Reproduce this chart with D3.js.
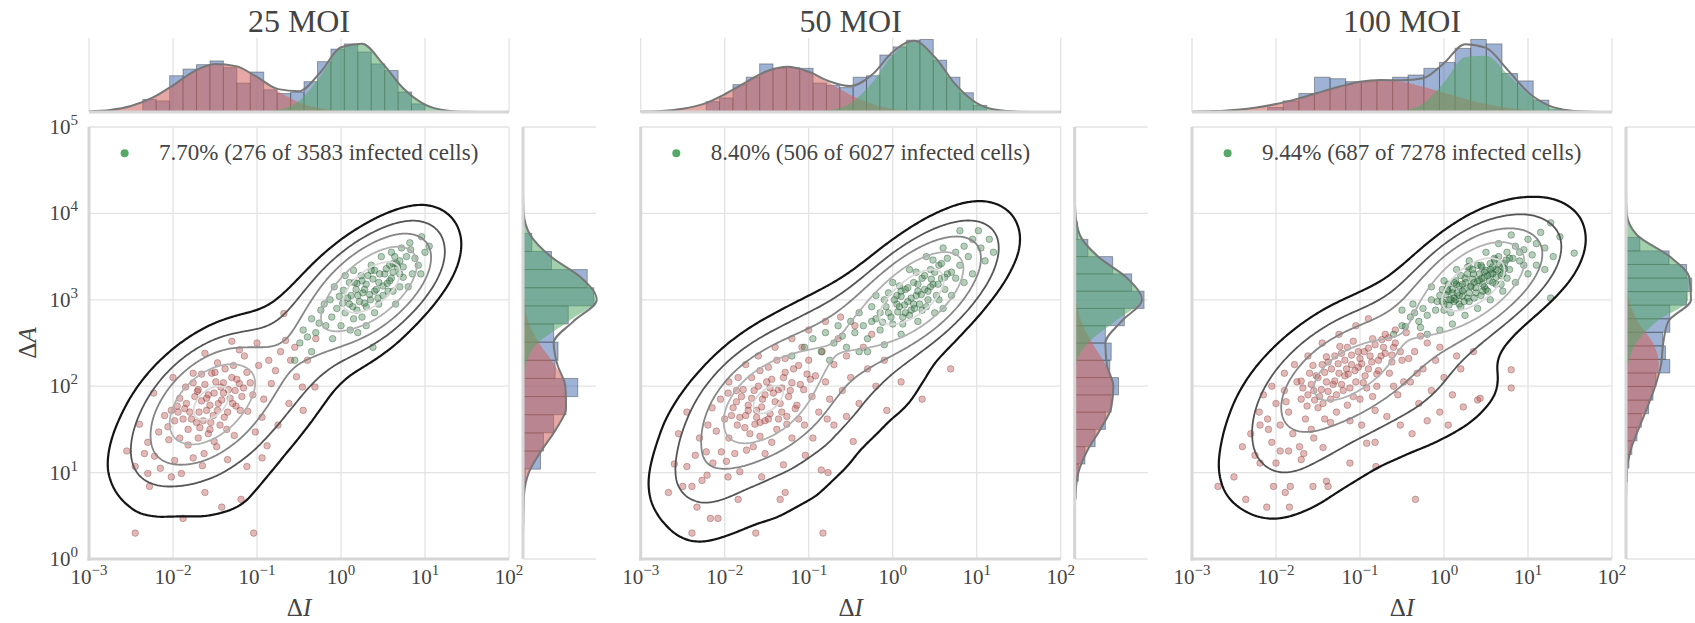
<!DOCTYPE html>
<html>
<head>
<meta charset="utf-8">
<title>Infected cells by MOI</title>
<script src="https://d3js.org/d3.v7.min.js"></script>
<style>
  body { margin: 0; background: #fff; }
  text { font-family: "Liberation Serif", "DejaVu Serif", serif; fill: #444; }
</style>
</head>
<body>
<script>
// ---- data ----
var titles = ["25 MOI", "50 MOI", "100 MOI"];
var legendLabels = ["7.70% (276 of 3583 infected cells)",
                    "8.40% (506 of 6027 infected cells)",
                    "9.44% (687 of 7278 infected cells)"];
var xTickExps = [-3, -2, -1, 0, 1, 2];
var yTickExps = [0, 1, 2, 3, 4, 5];

// log10 grid for the fitted component curves
var topGrid = [-3, -2.75, -2.5, -2.25, -2, -1.75, -1.5, -1.25, -1, -0.75, -0.5, -0.25, 0, 0.25, 0.5, 0.75, 1, 1.25, 1.5, 1.75, 2];
var rightGrid = [0, 0.25, 0.5, 0.75, 1, 1.25, 1.5, 1.75, 2, 2.25, 2.5, 2.75, 3, 3.25, 3.5, 3.75, 4, 4.25, 4.5, 4.75, 5];

var topRed1 = [0.007, 0.026, 0.08, 0.19, 0.36, 0.55, 0.65, 0.62, 0.47, 0.28, 0.13, 0.05, 0.015, 0.003, 0, 0, 0, 0, 0, 0, 0];
var topGreen1 = [0, 0, 0, 0, 0, 0, 0, 0, 0.003, 0.029, 0.15, 0.48, 0.86, 0.92, 0.65, 0.31, 0.10, 0.022, 0.003, 0, 0];
var topRed2 = [0.003, 0.013, 0.043, 0.11, 0.24, 0.40, 0.55, 0.61, 0.54, 0.39, 0.23, 0.11, 0.04, 0.012, 0.003, 0, 0, 0, 0, 0, 0];
var topGreen2 = [0, 0, 0, 0, 0, 0, 0, 0, 0.003, 0.023, 0.12, 0.39, 0.77, 0.95, 0.74, 0.37, 0.12, 0.026, 0.004, 0, 0];
var topRed3 = [0.005, 0.012, 0.028, 0.058, 0.107, 0.177, 0.26, 0.34, 0.41, 0.43, 0.41, 0.34, 0.26, 0.177, 0.107, 0.058, 0.028, 0.012, 0.005, 0.002, 0];
var topGreen3 = [0, 0, 0, 0, 0, 0, 0, 0, 0, 0.002, 0.018, 0.115, 0.40, 0.74, 0.76, 0.52, 0.24, 0.075, 0.016, 0.002, 0];

var rightRed1 = [0, 0, 0.005, 0.015, 0.08, 0.25, 0.45, 0.59, 0.58, 0.43, 0.22, 0.07, 0.02, 0.005, 0, 0, 0, 0, 0, 0, 0];
var rightGreen1 = [0, 0, 0, 0, 0, 0, 0, 0, 0, 0.04, 0.2, 0.62, 0.99, 0.8, 0.38, 0.1, 0.01, 0, 0, 0, 0];
var rightRed2 = [0, 0, 0, 0.01, 0.05, 0.17, 0.35, 0.5, 0.53, 0.42, 0.24, 0.09, 0.02, 0, 0, 0, 0, 0, 0, 0, 0];
var rightGreen2 = [0, 0, 0, 0, 0, 0, 0, 0, 0, 0.02, 0.18, 0.55, 0.9, 0.72, 0.32, 0.07, 0.01, 0, 0, 0, 0];
var rightRed3 = [0, 0, 0, 0, 0.01, 0.06, 0.17, 0.29, 0.40, 0.45, 0.37, 0.16, 0.04, 0.01, 0, 0, 0, 0, 0, 0, 0];
var rightGreen3 = [0, 0, 0, 0, 0, 0, 0, 0, 0, 0.03, 0.14, 0.42, 0.85, 0.86, 0.60, 0.15, 0.01, 0, 0, 0, 0];

// histograms of all cells (log10 bin start, bin width, relative heights)
var topBinStart = [-2.36, -2.22, -2.10];
var topBinWidth = [0.16, 0.159, 0.186];
var topBars1 = [0.17, 0.15, 0.49, 0.58, 0.64, 0.69, 0.60, 0.39, 0.54, 0.30, 0.25, 0.27, 0.41, 0.68, 0.85, 0.92, 0.81, 0.65, 0.56, 0.27, 0.11];
var topBars2 = [0.14, 0.19, 0.37, 0.47, 0.65, 0.59, 0.60, 0.59, 0.39, 0.36, 0.33, 0.47, 0.49, 0.77, 0.88, 0.97, 0.98, 0.70, 0.47, 0.26, 0.09];
var topBars3 = [0.06, 0.15, 0.25, 0.47, 0.45, 0.41, 0.41, 0.43, 0.47, 0.50, 0.59, 0.67, 0.86, 0.98, 0.92, 0.52, 0.42, 0.16, 0.03];
var rightBinStart = [0.41, 0.7, 0.74];
var rightBinWidth = [0.21, 0.2, 0.157];
var rightBars1 = [0.01, 0.01, 0.03, 0.24, 0.28, 0.42, 0.59, 0.75, 0.44, 0.48, 0.42, 0.62, 0.97, 0.88, 0.39, 0.12];
var rightBars2 = [0.02, 0.05, 0.14, 0.28, 0.42, 0.5, 0.6, 0.48, 0.5, 0.42, 0.68, 0.95, 0.78, 0.52, 0.18, 0.04];
var rightBars3 = [0.01, 0.02, 0.04, 0.08, 0.15, 0.21, 0.31, 0.37, 0.41, 0.60, 0.54, 0.50, 0.60, 0.60, 0.83, 0.90, 0.83, 0.59, 0.19];

// cells as [log10 dI, log10 dA]
var red1 = [[-2.45,0.30],[-1.04,0.30],[-1.88,0.47],[-1.42,0.60],[-1.19,0.69],[-1.62,0.77],[-2.28,0.84],[-2.30,0.99],[-2.45,1.07],[-2.02,0.95],[-1.90,0.99],[-1.12,1.07],[-0.94,1.17],[-0.88,1.31],[-2.34,1.22],[-2.22,1.19],[-1.98,1.14],[-1.76,1.17],[-1.63,1.22],[-1.51,1.36],[-1.27,1.43],[-1.02,1.47],[-2.17,1.47],[-2.06,1.53],
  [-0.68,2.84],[-1.00,2.50],[-0.66,2.53],[-1.21,2.42],[-1.47,2.27],[-1.76,2.15],[-1.54,2.15],[-1.85,1.99],[-1.71,1.94],[-1.43,1.99],[-1.21,2.03],[-0.83,2.03],[-0.53,2.11],[-0.46,1.99],[-0.31,1.99],[-2.23,1.92],[-2.02,1.72],[-1.95,1.77],[-1.60,1.72],[-1.25,1.77],[-1.11,1.71],[-0.94,1.64],[-0.45,1.72],
  [-1.88,1.62],[-1.80,1.70],[-1.72,1.58],[-1.66,1.83],[-1.58,1.90],[-1.52,1.66],[-1.46,1.80],[-1.40,1.92],[-1.35,1.70],[-1.30,2.10],[-1.92,1.86],[-1.84,1.80],[-1.76,2.04],[-1.68,1.52],[-1.62,2.02],[-1.55,1.58],[-1.49,2.05],[-1.44,1.55],[-1.38,2.20],[-1.32,1.86],[-1.26,1.95],[-1.18,1.88],[-1.12,2.16],[-1.05,1.90],[-0.98,2.24],[-0.92,1.85],[-0.86,2.30],[-0.78,2.18],[-0.72,2.40],[-0.60,2.30],[-1.98,1.60],[-2.10,1.66],[-2.05,1.38],[-1.92,1.40],[-1.82,1.32],[-1.70,1.40],[-1.58,1.45],[-1.48,1.30],[-1.36,1.50],[-2.40,1.56],[-2.30,1.35],[-2.55,1.25],[-2.15,1.05],[-1.65,1.08],[-1.35,1.15],[-0.75,1.55],[-0.62,1.80],[-0.55,2.45],[-0.40,2.30],[-0.30,2.55],[-1.15,2.35],[-1.30,2.52],[-1.62,2.38],[-2.00,2.10],
  [-1.86,1.74],[-1.78,1.62],[-1.74,1.88],[-1.69,1.70],[-1.64,1.60],[-1.60,1.86],[-1.56,1.78],[-1.51,1.92],[-1.47,1.72],[-1.42,1.84],[-1.39,1.64],[-1.34,1.96],[-1.29,1.80],[-1.24,2.08],[-1.20,1.72],[-1.16,1.98],[-1.70,1.96],[-1.82,1.50],[-1.94,1.70],[-1.50,2.16],[-1.28,2.24],[-1.08,2.04],[-1.56,1.50],[-1.66,2.14],[-1.40,2.04]];
var green1 = [[0.96,3.73],[0.83,3.58],[0.62,3.42],[0.40,3.34],[0.19,3.19],[-0.02,3.04],[-0.24,2.88],[-0.40,2.57],[-0.49,2.50],[-0.26,2.73],[-0.11,2.80],[0.19,2.88],[0.40,2.85],[0.38,2.45],[0.11,2.65],[0.67,3.38],[0.74,3.26],[0.55,3.19],[0.15,3.34],[0.03,3.11],[-0.13,3.00],
  [0.10,2.95],[0.20,3.05],[0.28,3.12],[0.35,3.00],[0.45,3.20],[0.52,3.30],[0.60,3.25],[0.70,3.45],[0.78,3.50],[0.88,3.48],[0.92,3.40],[0.85,3.30],[0.30,2.92],[0.25,3.22],[0.05,2.85],[-0.05,2.90],[-0.18,2.70],[-0.30,2.62],[-0.35,2.78],[0.00,2.70],[0.15,2.78],[0.25,2.80],[0.45,2.95],[0.50,3.05],[0.58,3.40],[0.62,3.10],[0.40,3.10],[0.32,3.28],[0.10,3.20],[-0.08,3.15],[0.72,3.60],[0.82,3.66],[1.00,3.55],[1.05,3.62],[0.95,3.30],[0.70,3.15],[0.20,2.62],[-0.45,2.65],[-0.55,2.30],[-0.35,2.40],[0.05,3.28],[0.48,3.50],[0.60,3.55],[0.12,3.05],[0.36,3.40],[-0.20,2.95],[0.80,3.15],[0.30,2.70],[-0.10,2.55],[0.65,2.95],
  [0.08,3.02],[0.14,2.92],[0.18,3.12],[0.22,2.98],[0.26,3.08],[0.30,3.18],[0.34,3.06],[0.38,3.24],[0.42,3.12],[0.46,3.30],[0.50,3.16],[0.54,3.36],[0.58,3.22],[0.62,3.32],[0.66,3.42],[0.70,3.30],[0.16,3.20],[0.28,2.96],[0.44,3.02],[0.56,3.10],[0.64,3.50],[0.02,2.96],[0.36,3.34],[0.24,3.28],[0.74,3.38]];
var red2 = [[-2.39,0.30],[-1.63,0.30],[-0.83,0.30],[-2.17,0.47],[-2.08,0.47],[-1.34,0.69],[-1.28,0.77],[-1.84,0.69],[-2.33,0.60],[-2.50,0.84],[-2.39,0.84],[-2.67,0.77],[-2.45,1.07],[-2.27,0.91],[-2.21,0.97],[-2.14,1.11],[-1.98,1.13],[-1.96,0.95],[-1.82,1.01],[-1.56,0.95],[-0.85,1.03],[-0.77,1.00],[-0.47,1.36],[-0.07,1.72],[-1.04,1.20],[-1.30,1.09],[-1.52,1.22],[-2.22,1.24],[-2.04,1.24],[-1.74,1.26],
  [-2.30,1.40],[-2.20,1.55],[-2.10,1.48],[-2.00,1.62],[-1.95,1.40],[-1.90,1.75],[-1.85,1.55],[-1.80,1.88],[-1.75,1.66],[-1.70,1.45],[-1.65,1.95],[-1.62,1.72],[-1.58,1.58],[-1.55,1.85],[-1.50,2.05],[-1.46,1.68],[-1.42,1.92],[-1.38,1.50],[-1.34,1.80],[-1.30,2.10],[-1.26,1.65],[-1.22,1.95],[-1.18,2.20],[-1.14,1.78],[-1.10,2.02],[-1.05,1.55],[-1.00,2.30],[-0.96,1.88],[-0.92,2.12],[-0.88,1.70],[-0.84,2.40],[-0.80,2.05],[-0.75,1.85],[-0.70,2.25],[-0.65,2.55],[-0.60,1.95],[-0.55,2.35],[-0.50,2.10],[-0.45,2.70],[-0.40,1.80],[-0.35,2.45],[-0.30,2.20],[-0.25,2.60],[-0.20,2.00],[-1.95,2.05],[-1.75,2.25],[-1.60,2.35],[-1.40,2.45],[-1.20,2.55],[-1.00,2.65],[-0.80,2.75],[-2.45,1.70],[-2.55,1.45],[-2.35,1.20],[-2.60,1.10],[-1.88,1.22],[-1.66,1.30],[-1.44,1.35],[-1.20,1.40],[-0.95,1.40],[-0.70,1.55],[-0.55,1.65],[-1.72,1.78],[-1.52,1.60],[-1.32,1.98],[-1.12,1.62],[-1.48,2.22],[-1.68,2.10],[-1.86,1.95],[-2.05,1.85],[-1.28,2.32],[-0.98,2.08],[-0.78,1.62],[-2.15,1.75],[-1.58,1.42],[-1.36,1.62],[-1.08,2.45],[-0.62,2.80],[0.35,1.85],[0.69,2.20],[-0.10,2.30],[0.10,2.05],
  [-1.92,1.66],[-1.86,1.82],[-1.82,1.64],[-1.78,1.96],[-1.72,1.72],[-1.68,1.86],[-1.64,1.56],[-1.60,2.00],[-1.56,1.76],[-1.52,1.90],[-1.48,1.62],[-1.44,2.08],[-1.40,1.82],[-1.36,1.96],[-1.32,1.70],[-1.28,2.16],[-1.24,1.88],[-1.20,2.04],[-1.16,1.74],[-1.12,2.24],[-1.06,1.96],[-1.02,2.14],[-1.96,1.92],[-1.76,1.52],[-1.58,2.18],[-1.38,2.30],[-1.62,1.64],[-1.46,1.98],[-1.26,1.56],[-1.84,2.10]];
var green2 = [[-1.20,2.35],[-1.05,2.45],[-0.95,2.55],[-0.85,2.40],[-0.80,2.62],[-0.70,2.50],[-0.65,2.70],[-0.60,2.58],[-0.55,2.45],[-0.50,2.75],[-0.45,2.62],[-0.40,2.85],[-0.35,2.70],[-0.30,2.55],[-0.25,2.92],[-0.20,2.78],[-0.15,2.65],[-0.10,3.00],[-0.05,2.85],[0.00,2.72],[0.05,3.05],[0.08,2.92],[0.12,2.80],[0.15,3.12],[0.18,2.98],[0.22,2.88],[0.25,3.20],[0.28,3.05],[0.32,2.95],[0.35,3.25],[0.38,3.12],[0.42,3.00],[0.45,3.35],[0.48,3.18],[0.52,3.05],[0.55,3.40],[0.58,3.25],[0.62,3.12],[0.65,3.48],[0.70,3.32],[0.75,3.55],[0.80,3.40],[0.85,3.62],[0.90,3.50],[0.95,3.70],[1.02,3.80],[1.05,3.60],[1.10,3.45],[0.85,3.20],[0.70,3.05],[0.50,2.85],[0.30,2.75],[0.10,2.60],[-0.10,2.48],[-0.30,2.40],[0.60,2.90],[0.95,3.30],[1.15,3.70],[0.20,3.35],[0.00,3.20],[-0.20,3.05],[0.40,3.50],[0.60,3.60],[-0.40,2.40],[-0.75,2.30],[0.25,2.95],[0.15,2.85],[0.05,2.95],[-0.05,3.08],[0.35,2.88],[0.45,3.15],[0.55,3.00],[0.75,3.25],[0.65,3.30],[-0.15,2.85],[-0.25,2.75],[0.10,3.10],[0.30,3.10],[1.20,3.55],[0.80,3.80],
  [-0.08,2.92],[-0.02,2.80],[0.02,3.00],[0.06,2.86],[0.10,3.04],[0.14,2.94],[0.18,3.14],[0.22,3.02],[0.26,2.90],[0.30,3.18],[0.34,3.06],[0.38,3.28],[0.42,3.10],[0.46,3.24],[0.50,3.32],[0.54,3.18],[0.58,3.42],[0.12,2.72],[0.20,2.82],[0.40,2.92],[0.62,3.26],[-0.12,2.74],[0.08,3.16],[0.28,3.32],[0.48,3.46]];
var red3 = [[-2.69,0.84],[-2.36,0.69],[-2.11,0.60],[-1.84,0.60],[-1.89,0.77],[-2.03,0.84],[-1.83,0.84],[-1.56,0.84],[-1.40,0.90],[-1.38,0.84],[-0.34,0.69],[-2.50,0.95],[-2.19,1.11],[-2.00,1.11],[-1.12,1.11],[-0.81,1.07],[-1.95,1.25],[-1.85,1.25],[-1.67,1.22],[-1.44,1.29],[-0.92,1.34],[-0.82,1.35],[-2.19,1.55],[-2.09,1.50],[0.23,1.76],[0.40,1.84],[0.80,2.19],[0.80,1.98],[0.43,1.86],
  [-2.30,1.45],[-2.20,1.70],[-2.10,1.62],[-2.00,1.80],[-1.95,1.55],[-1.90,1.95],[-1.85,1.70],[-1.80,1.45],[-1.75,2.05],[-1.70,1.85],[-1.65,1.62],[-1.60,2.15],[-1.55,1.95],[-1.50,1.75],[-1.45,2.25],[-1.40,2.05],[-1.35,1.85],[-1.30,2.35],[-1.25,2.15],[-1.20,1.95],[-1.15,2.45],[-1.10,2.25],[-1.05,2.05],[-1.00,1.85],[-0.95,2.40],[-0.90,2.20],[-0.85,2.55],[-0.80,2.00],[-0.75,2.35],[-0.70,2.60],[-0.65,2.15],[-0.60,2.45],[-0.55,1.90],[-0.50,2.30],[-0.45,2.62],[-0.40,2.05],[-0.35,2.40],[-0.30,1.80],[-0.25,2.20],[-0.20,2.50],[-0.15,1.95],[-0.10,2.30],[-0.05,1.70],[0.00,2.10],[0.10,1.90],[0.20,2.20],[-2.40,1.30],[-2.25,1.20],[-2.05,1.35],[-1.72,1.30],[-1.58,1.50],[-1.42,1.62],[-1.28,1.70],[-1.12,1.60],[-0.98,1.55],[-0.82,1.72],[-0.68,1.65],[-0.52,1.55],[-0.38,1.45],[-1.62,2.35],[-1.45,2.50],[-1.25,2.60],[-1.05,2.70],[-0.90,2.78],[-1.78,2.25],[-1.90,2.15],[-2.05,2.00],[-1.68,1.98],[-1.52,2.12],[-1.38,2.28],[-1.22,2.38],[-1.08,1.88],[-0.92,1.98],[-0.78,2.18],[-0.62,2.28],[-0.48,2.05],[-0.32,2.15],[-1.48,1.88],[-1.32,2.02],[-1.18,2.12],[-1.02,2.22],[-0.88,2.35],[-0.72,2.45],[-0.58,2.65],[-1.55,1.40],[-1.70,1.15],[-0.20,1.60],[-0.05,2.45],[0.15,2.35],[-2.15,1.90],[-1.88,1.82],[-1.63,1.77],[-1.35,1.58],[-1.15,1.78],[-0.85,1.88],[-0.60,2.00],[-0.42,2.32],[-0.28,2.58],[0.05,1.55],[0.35,2.40],
  [-1.62,1.90],[-1.58,2.02],[-1.54,1.84],[-1.50,2.10],[-1.46,1.96],[-1.42,2.16],[-1.38,1.94],[-1.34,2.20],[-1.30,2.06],[-1.26,2.26],[-1.22,2.02],[-1.18,2.30],[-1.14,2.14],[-1.10,2.36],[-1.06,2.18],[-1.02,2.40],[-0.98,2.26],[-0.94,2.12],[-0.90,2.44],[-0.86,2.28],[-0.82,2.48],[-0.78,2.30],[-0.74,2.54],[-0.70,2.38],[-0.66,2.56],[-0.62,2.36],[-0.58,2.50],[-1.44,1.80],[-1.28,1.90],[-1.12,1.98],[-0.96,2.04],[-0.80,2.14],[-1.56,2.24],[-1.40,2.34],[-1.24,2.46],[-1.08,2.52],[-1.70,2.06],[-0.52,2.40],[-1.16,2.20],[-1.00,2.32]];
var green3 = [[-0.60,2.60],[-0.50,2.70],[-0.46,2.69],[-0.40,2.80],[-0.37,2.95],[-0.50,2.88],[-0.30,2.75],[-0.25,2.90],[-0.20,2.82],[-0.15,3.00],[-0.10,2.88],[-0.05,3.05],[0.00,2.95],[0.05,3.10],[0.08,2.85],[0.12,3.02],[0.15,3.18],[0.18,2.95],[0.22,3.10],[0.25,3.25],[0.28,3.02],[0.32,3.15],[0.35,3.30],[0.38,3.08],[0.42,3.22],[0.45,3.38],[0.48,3.15],[0.52,3.28],[0.55,3.42],[0.58,3.20],[0.62,3.35],[0.65,3.50],[0.68,3.28],[0.72,3.42],[0.75,3.55],[0.78,3.35],[0.82,3.48],[0.85,3.62],[0.90,3.45],[0.95,3.58],[1.00,3.70],[1.05,3.52],[1.10,3.65],[1.15,3.78],[1.20,3.60],[1.27,3.89],[1.38,3.73],[1.55,3.54],[1.27,3.02],[1.30,3.50],[1.20,3.35],[1.00,3.30],[0.85,3.20],[0.70,3.10],[0.55,3.00],[0.40,2.90],[0.25,2.82],[0.10,2.72],[-0.05,2.65],[-0.20,2.60],[0.30,3.45],[0.15,3.35],[0.00,3.22],[-0.15,3.15],[0.50,3.55],[0.65,3.65],[0.80,3.75],[0.40,3.40],[0.20,3.28],[0.05,3.18],[0.60,3.48],[0.48,3.32],[0.36,3.20],[0.24,3.12],[0.12,2.98],[0.00,2.88],[0.70,3.38],[0.58,3.30],[0.44,3.05],[0.30,2.98],[0.18,3.05],[0.06,3.00],[0.90,3.55],[0.78,3.48],[0.62,3.18],[0.50,3.12],[0.34,3.35],[0.22,3.18],[0.10,3.12],[-0.08,2.98],[-0.28,2.68],[-0.35,2.85],[1.10,3.40],[0.95,3.40],[0.75,3.25],[0.45,3.25],[0.28,3.38],[0.14,3.22],[-0.02,3.12],[0.55,3.35],
  [-0.02,2.98],[0.02,3.06],[0.06,2.94],[0.10,3.08],[0.14,3.00],[0.18,3.16],[0.22,3.04],[0.26,3.20],[0.30,3.08],[0.34,3.24],[0.38,3.14],[0.42,3.30],[0.46,3.18],[0.50,3.34],[0.54,3.22],[0.58,3.38],[0.62,3.26],[0.66,3.42],[0.70,3.30],[0.74,3.46],[0.04,3.12],[0.12,3.20],[0.20,2.92],[0.28,3.30],[0.36,3.02],[0.44,3.40],[0.52,3.10],[0.60,3.46],[0.68,3.18],[0.16,3.08],[0.32,3.16],[0.48,3.26],[0.64,3.34],[0.24,2.98],[0.40,3.22],[0.56,3.30],[0.08,3.00],[0.72,3.36],[0.46,3.10],[0.30,3.38]];

var panels = [
  {title: titles[0], legend: legendLabels[0], red: red1, green: green1, topRed: topRed1, topGreen: topGreen1, rightRed: rightRed1, rightGreen: rightGreen1, topBars: topBars1, rightBars: rightBars1},
  {title: titles[1], legend: legendLabels[1], red: red2, green: green2, topRed: topRed2, topGreen: topGreen2, rightRed: rightRed2, rightGreen: rightGreen2, topBars: topBars2, rightBars: rightBars2},
  {title: titles[2], legend: legendLabels[2], red: red3, green: green3, topRed: topRed3, topGreen: topGreen3, rightRed: rightRed3, rightGreen: rightGreen3, topBars: topBars3, rightBars: rightBars3}
];

// ---- layout ----
var W = 1695, H = 623;
var mainLeft = [89, 640.7, 1192];
var mainTop = 127, mainW = 420, mainH = 432;
var topY = 38, topH = 74;
var rightGap = 14, rightW = 73;

var gridColor = "#e3e3e3", spineColor = "#d6d6d6";
var redFill = "#d0605a", greenFill = "#55a868", blueBar = "#4c72b0";
var contourColors = ["#141414", "#555555", "#858585", "#b0b0b0", "#dadada"];
var contourLevels = [0.065, 0.18, 0.34, 0.55, 0.8];
var kdeBandwidth = [29, 30, 33];   // px along the diagonal
var kdeSquash = 1.45;              // kernel is this much narrower across the diagonal

var svg = d3.select("body").append("svg").attr("width", W).attr("height", H);

var x = d3.scaleLog().domain([1e-3, 1e2]).range([0, mainW]);
var y = d3.scaleLog().domain([1, 1e5]).range([mainH, 0]);
var hTop = d3.scaleLinear().domain([0, 1]).range([topH, 0]);
var hRight = d3.scaleLinear().domain([0, 1]).range([0, rightW]);
function p10(v) { return Math.pow(10, v); }
function supText(e) { return e < 0 ? "\u2212" + (-e) : String(e); }

// rotated frame for an elongated (diagonal) kernel
var SQ = Math.SQRT2, pad = 80;
var ou = mainH / SQ + pad, ov = pad;
var gridW = (mainW + mainH) / SQ + 2 * pad;
var gridH = (mainW + mainH) / SQ * kdeSquash + 2 * pad;
var fromRotated = d3.geoTransform({
  point: function (u, v) {
    var uu = u - ou, vv = (v - ov) / kdeSquash;
    this.stream.point((uu + vv) / SQ, (vv - uu) / SQ);
  }
});

svg.append("defs").append("clipPath").attr("id", "plotClip")
  .append("rect").attr("width", mainW).attr("height", mainH);

panels.forEach(function (P, pi) {
  var left = mainLeft[pi];

  // ---------- main joint panel ----------
  var g = svg.append("g").attr("transform", "translate(" + left + "," + mainTop + ")");

  g.selectAll(".vg").data(xTickExps).enter().append("line")
    .attr("x1", function (e) { return x(p10(e)); }).attr("x2", function (e) { return x(p10(e)); })
    .attr("y1", 0).attr("y2", mainH)
    .attr("stroke", gridColor).attr("stroke-width", 1.3);
  g.selectAll(".hg").data(yTickExps).enter().append("line")
    .attr("x1", 0).attr("x2", mainW)
    .attr("y1", function (e) { return y(p10(e)); }).attr("y2", function (e) { return y(p10(e)); })
    .attr("stroke", gridColor).attr("stroke-width", 1.3);
  g.append("line").attr("x1", 0).attr("x2", 0).attr("y1", 0).attr("y2", mainH + 1.5)
    .attr("stroke", spineColor).attr("stroke-width", 3);
  g.append("line").attr("x1", -1.5).attr("x2", mainW).attr("y1", mainH).attr("y2", mainH)
    .attr("stroke", spineColor).attr("stroke-width", 3);

  // points
  g.selectAll(".rp").data(P.red).enter().append("circle")
    .attr("cx", function (d) { return x(p10(d[0])); })
    .attr("cy", function (d) { return y(p10(d[1])); })
    .attr("r", 3.3)
    .attr("fill", "#b8504c").attr("fill-opacity", 0.4)
    .attr("stroke", "#6e2a2a").attr("stroke-opacity", 0.4).attr("stroke-width", 0.8);
  g.selectAll(".gp").data(P.green).enter().append("circle")
    .attr("cx", function (d) { return x(p10(d[0])); })
    .attr("cy", function (d) { return y(p10(d[1])); })
    .attr("r", 3.3)
    .attr("fill", "#3a7f4a").attr("fill-opacity", 0.38)
    .attr("stroke", "#1c4a28").attr("stroke-opacity", 0.45).attr("stroke-width", 0.8);

  // density contours of all cells
  var allPts = P.red.concat(P.green);
  var dens = d3.contourDensity()
    .x(function (d) { var px = x(p10(d[0])), py = y(p10(d[1])); return (px - py) / SQ + ou; })
    .y(function (d) { var px = x(p10(d[0])), py = y(p10(d[1])); return (px + py) / SQ * kdeSquash + ov; })
    .size([gridW, gridH]).cellSize(2).bandwidth(kdeBandwidth[pi]);
  var geo = d3.geoPath(fromRotated);
  var shapes;
  if (dens.contours) {
    var cf = dens.contours(allPts);
    shapes = contourLevels.map(function (f) { return cf(f * cf.max); });
  } else {
    var mx = d3.max(dens.thresholds(200)(allPts), function (c) { return c.value; });
    shapes = dens.thresholds(contourLevels.map(function (f) { return f * mx; }))(allPts);
  }
  g.append("g").attr("clip-path", "url(#plotClip)")
    .selectAll("path").data(shapes).enter().append("path")
    .attr("d", geo)
    .attr("fill", "none")
    .attr("stroke", function (d, i) { return contourColors[i]; })
    .attr("stroke-width", function (d, i) { return i === 0 ? 2.2 : 1.8; });

  // legend
  g.append("circle").attr("cx", 35.6).attr("cy", 26.3).attr("r", 4).attr("fill", "#55a868");
  g.append("text").attr("x", 70).attr("y", 32.5).style("font-size", "23px").text(P.legend);

  // x tick labels
  g.selectAll(".xt").data(xTickExps).enter().append("text")
    .attr("x", function (e) { return x(p10(e)); })
    .attr("y", mainH + 25)
    .attr("text-anchor", "middle")
    .style("font-size", "21px")
    .each(function (e) {
      var t = d3.select(this);
      t.append("tspan").text("10");
      t.append("tspan").attr("dy", -9).style("font-size", "15px").text(supText(e));
    });
  // x label
  var xl = g.append("text").attr("x", mainW / 2).attr("y", mainH + 57)
    .attr("text-anchor", "middle").style("font-size", "25px");
  xl.append("tspan").text("\u0394");
  xl.append("tspan").style("font-style", "italic").text("I");

  if (pi === 0) {
    g.selectAll(".yt").data(yTickExps).enter().append("text")
      .attr("x", -11)
      .attr("y", function (e) { return y(p10(e)) + 7; })
      .attr("text-anchor", "end")
      .style("font-size", "21px")
      .each(function (e) {
        var t = d3.select(this);
        t.append("tspan").text("10");
        t.append("tspan").attr("dy", -9).style("font-size", "15px").text(supText(e));
      });
    var yl = g.append("text").attr("transform", "translate(-53," + (mainH / 2) + ") rotate(-90)")
      .attr("text-anchor", "middle").style("font-size", "25px");
    yl.append("tspan").text("\u0394");
    yl.append("tspan").style("font-style", "italic").text("A");
  }

  // title
  svg.append("text").attr("x", left + mainW / 2).attr("y", 32)
    .attr("text-anchor", "middle").style("font-size", "32px").text(P.title);

  // ---------- top marginal ----------
  var gt = svg.append("g").attr("transform", "translate(" + left + "," + topY + ")");
  gt.selectAll(".vg").data(xTickExps).enter().append("line")
    .attr("x1", function (e) { return x(p10(e)); }).attr("x2", function (e) { return x(p10(e)); })
    .attr("y1", 0).attr("y2", topH)
    .attr("stroke", gridColor).attr("stroke-width", 1.3);

  var tStart = topBinStart[pi], tW = topBinWidth[pi];
  gt.selectAll(".tb").data(P.topBars).enter().append("rect")
    .attr("x", function (d, i) { return x(p10(tStart + i * tW)); })
    .attr("width", function (d, i) { return x(p10(tStart + (i + 1) * tW)) - x(p10(tStart + i * tW)); })
    .attr("y", function (d) { return hTop(d); })
    .attr("height", function (d) { return topH - hTop(d); })
    .attr("fill", blueBar).attr("fill-opacity", 0.55)
    .attr("stroke", "#2a2a2a").attr("stroke-opacity", 0.4).attr("stroke-width", 1);

  var topPts = topGrid.map(function (gv, i) { return {v: gv, r: P.topRed[i], g: P.topGreen[i]}; });
  var areaTop = function (key) {
    return d3.area().curve(d3.curveMonotoneX)
      .x(function (d) { return x(p10(d.v)); })
      .y0(topH).y1(function (d) { return hTop(d[key]); });
  };
  gt.append("path").attr("d", areaTop("r")(topPts)).attr("fill", redFill).attr("fill-opacity", 0.55);
  gt.append("path").attr("d", areaTop("g")(topPts)).attr("fill", greenFill).attr("fill-opacity", 0.55);

  gt.append("path")
    .attr("d", d3.line().curve(d3.curveMonotoneX)
      .x(function (d) { return x(p10(d.v)); })
      .y(function (d) { return hTop(d.r + d.g); })(topPts))
    .attr("fill", "none").attr("stroke", "#777").attr("stroke-width", 2);
  gt.append("line").attr("x1", 0).attr("x2", mainW).attr("y1", topH).attr("y2", topH)
    .attr("stroke", spineColor).attr("stroke-width", 3);

  // ---------- right marginal ----------
  var gr = svg.append("g").attr("transform", "translate(" + (left + mainW + rightGap) + "," + mainTop + ")");
  gr.selectAll(".hg").data(yTickExps).enter().append("line")
    .attr("x1", 0).attr("x2", rightW)
    .attr("y1", function (e) { return y(p10(e)); }).attr("y2", function (e) { return y(p10(e)); })
    .attr("stroke", gridColor).attr("stroke-width", 1.3);

  var rStart = rightBinStart[pi], rW = rightBinWidth[pi];
  gr.selectAll(".rb").data(P.rightBars).enter().append("rect")
    .attr("x", 0)
    .attr("y", function (d, i) { return y(p10(rStart + (i + 1) * rW)); })
    .attr("height", function (d, i) { return y(p10(rStart + i * rW)) - y(p10(rStart + (i + 1) * rW)); })
    .attr("width", function (d) { return hRight(d); })
    .attr("fill", blueBar).attr("fill-opacity", 0.55)
    .attr("stroke", "#2a2a2a").attr("stroke-opacity", 0.4).attr("stroke-width", 1);

  var rightPts = rightGrid.map(function (gv, i) { return {v: gv, r: P.rightRed[i], g: P.rightGreen[i]}; }).reverse();
  var areaRight = function (key) {
    return d3.area().curve(d3.curveMonotoneY)
      .y(function (d) { return y(p10(d.v)); })
      .x0(0).x1(function (d) { return hRight(d[key]); });
  };
  gr.append("path").attr("d", areaRight("r")(rightPts)).attr("fill", redFill).attr("fill-opacity", 0.55);
  gr.append("path").attr("d", areaRight("g")(rightPts)).attr("fill", greenFill).attr("fill-opacity", 0.55);

  gr.append("path")
    .attr("d", d3.line().curve(d3.curveMonotoneY)
      .y(function (d) { return y(p10(d.v)); })
      .x(function (d) { return hRight(d.r + d.g); })(rightPts))
    .attr("fill", "none").attr("stroke", "#777").attr("stroke-width", 2);
  gr.append("line").attr("x1", 0).attr("x2", 0).attr("y1", 0).attr("y2", mainH)
    .attr("stroke", spineColor).attr("stroke-width", 3);
});
</script>
</body>
</html>
